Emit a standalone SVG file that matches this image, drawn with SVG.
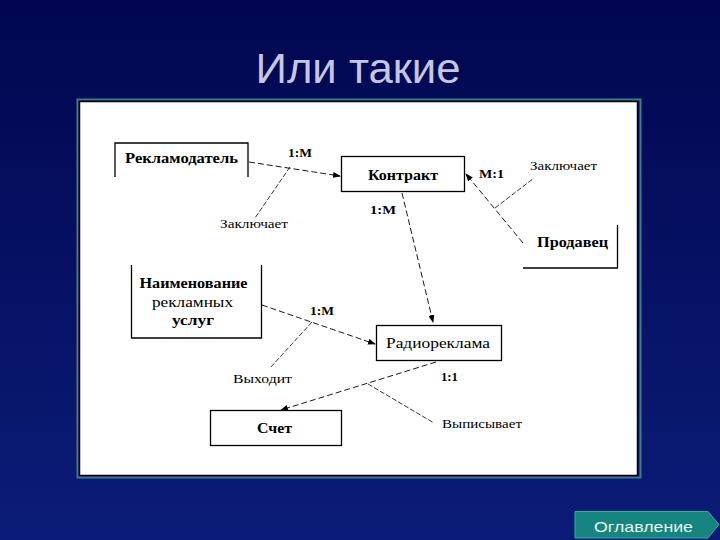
<svg xmlns="http://www.w3.org/2000/svg" width="720" height="540" viewBox="0 0 720 540">
<defs>
<linearGradient id="bg" x1="0" y1="0" x2="0" y2="1">
<stop offset="0" stop-color="#01064f"/>
<stop offset="1" stop-color="#0b1c78"/>
</linearGradient>
<marker id="ah" markerWidth="8" markerHeight="6" refX="7" refY="3" orient="auto" markerUnits="userSpaceOnUse">
<path d="M0,0 L8,3 L0,6 Z" fill="#000"/>
</marker>
<style>
.box{fill:none;stroke:#000;stroke-width:1.3}
.node{font-family:"Liberation Serif","Times New Roman",serif;font-size:15px;font-weight:bold;fill:#000;text-anchor:start}
.nodeN{font-family:"Liberation Serif","Times New Roman",serif;font-size:15px;fill:#000}
.card{font-family:"Liberation Serif","Times New Roman",serif;font-size:13px;font-weight:bold;fill:#000}
.lbl{font-family:"Liberation Serif","Times New Roman",serif;font-size:13px;fill:#000}
.rel{fill:none;stroke:#000;stroke-width:0.9;stroke-dasharray:6 3}
.sub{fill:none;stroke:#000;stroke-width:0.8;stroke-dasharray:5 2}
</style>
</defs>
<rect x="0" y="0" width="720" height="540" fill="url(#bg)"/>
<text x="358" y="83" text-anchor="middle" font-family="Liberation Sans, Arial, sans-serif" font-size="42" fill="#c4c6e2" textLength="205" lengthAdjust="spacingAndGlyphs">Или такие</text>

<rect x="77.5" y="99.5" width="563" height="378" fill="none" stroke="#3c7f8c" stroke-width="2"/>
<rect x="79.5" y="101.5" width="558" height="374" fill="#fff" stroke="#000" stroke-width="1.5"/>

<g id="connectors">
<line class="rel" x1="249" y1="162" x2="340" y2="176" marker-end="url(#ah)"/>
<line class="sub" x1="290" y1="167" x2="255" y2="218"/>
<line class="rel" x1="402" y1="193" x2="433" y2="322" marker-end="url(#ah)"/>
<line class="rel" x1="523" y1="243" x2="466" y2="174" marker-end="url(#ah)"/>
<line class="sub" x1="495" y1="208" x2="534" y2="178"/>
<line class="rel" x1="262" y1="305" x2="375" y2="344" marker-end="url(#ah)"/>
<line class="sub" x1="312" y1="322" x2="270" y2="368"/>
<line class="rel" x1="436" y1="362" x2="281" y2="410" marker-end="url(#ah)"/>
<line class="sub" x1="368" y1="384" x2="434" y2="423"/>
<text class="card" x="288" y="157" textLength="24" lengthAdjust="spacingAndGlyphs">1:M</text>
<text class="lbl" x="220" y="228" textLength="68" lengthAdjust="spacingAndGlyphs">Заключает</text>
<text class="card" x="370" y="214" textLength="26" lengthAdjust="spacingAndGlyphs">1:M</text>
<text class="card" x="479" y="178" textLength="25" lengthAdjust="spacingAndGlyphs">M:1</text>
<text class="lbl" x="530" y="170" textLength="67" lengthAdjust="spacingAndGlyphs">Заключает</text>
<text class="card" x="310" y="315" textLength="24" lengthAdjust="spacingAndGlyphs">1:M</text>
<text class="lbl" x="233" y="383" textLength="59" lengthAdjust="spacingAndGlyphs">Выходит</text>
<text class="card" x="441" y="381" textLength="17" lengthAdjust="spacingAndGlyphs">1:1</text>
<text class="lbl" x="442" y="428" textLength="80" lengthAdjust="spacingAndGlyphs">Выписывает</text>
</g>

<g id="reklamodatel">
<path class="box" d="M115,177 V143 H248 V177"/>
<text class="node" x="125" y="163" textLength="113" lengthAdjust="spacingAndGlyphs">Рекламодатель</text>
</g>

<g id="kontrakt">
<rect class="box" x="341.5" y="156.5" width="123" height="35"/>
<text class="node" x="368" y="180" textLength="70" lengthAdjust="spacingAndGlyphs">Контракт</text>
</g>

<g id="prodavec">
<path class="box" d="M523,268 H617.5 V225"/>
<text class="node" x="537" y="247" textLength="71" lengthAdjust="spacingAndGlyphs">Продавец</text>
</g>

<g id="naimenovanie">
<path class="box" d="M131.5,265 V338 H261.5 V265"/>
<text class="node" x="139.5" y="288" textLength="108" lengthAdjust="spacingAndGlyphs">Наименование</text>
<text class="nodeN" x="152" y="307" textLength="81" lengthAdjust="spacingAndGlyphs">рекламных</text>
<text class="node" x="172" y="325" textLength="42" lengthAdjust="spacingAndGlyphs">услуг</text>
</g>

<g id="radioreklama">
<rect class="box" x="376.5" y="325.5" width="125" height="35"/>
<text class="nodeN" x="386" y="348" textLength="104" lengthAdjust="spacingAndGlyphs">Радиореклама</text>
</g>

<g id="schet">
<rect class="box" x="210.5" y="410.5" width="131" height="35"/>
<text class="node" x="257" y="433" textLength="35" lengthAdjust="spacingAndGlyphs">Счет</text>
</g>

<g id="oglavlenie">
<path d="M575,511.5 H708 L719,524.5 L708,538 H575 Z" fill="#17857f" stroke="#3fa9a3" stroke-width="1"/>
<text x="594" y="531.5" font-family="Liberation Sans, Arial, sans-serif" font-size="14.5" fill="#e6f4f4" textLength="99" lengthAdjust="spacingAndGlyphs">Оглавление</text>
</g>
</svg>
